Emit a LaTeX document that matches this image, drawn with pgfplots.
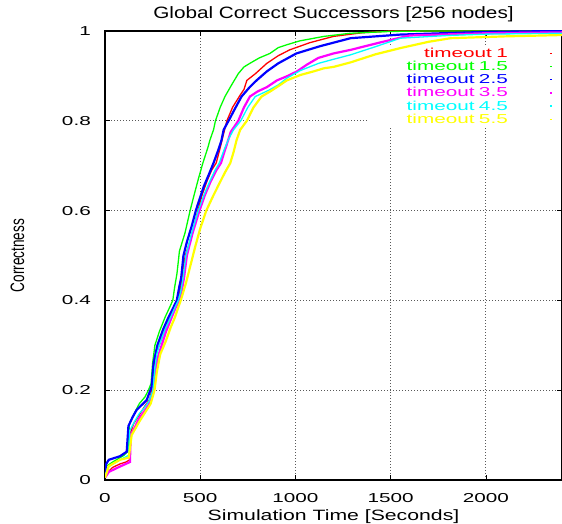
\documentclass[border=0pt]{standalone}
\usepackage{fontspec}
\setmainfont{Liberation Sans}
\newfontfamily\tickfont{Liberation Sans}[FakeStretch=1.6]
\newfontfamily\titlefont{Liberation Sans}[FakeStretch=1.26]
\newfontfamily\labelfont{Liberation Sans}[FakeStretch=1.42]
\newfontfamily\ylabfont{Liberation Sans}[FakeStretch=0.7]
\usepackage{pgfplots}
\pgfplotsset{compat=1.18}
\usetikzlibrary{calc}

\definecolor{gpred}{RGB}{255,0,0}
\definecolor{gpgreen}{RGB}{0,255,0}
\definecolor{gpblue}{RGB}{0,0,255}
\definecolor{gpmagenta}{RGB}{255,0,255}
\definecolor{gpcyan}{RGB}{0,255,255}
\definecolor{gpyellow}{RGB}{255,255,0}

\begin{document}
\begin{tikzpicture}
\begin{axis}[
  set layers,
  scale only axis,
  width=457bp, height=449bp,
  xmin=0, xmax=2400, ymin=0, ymax=1,
  enlargelimits=false,
  xtick={0,500,1000,1500,2000},
  ytick={0,0.2,0.4,0.6,0.8,1},
  /pgf/number format/assume math mode=true,
  /pgf/number format/1000 sep={},
  tick align=inside,
  major tick length=5bp,
  tick style={black, line width=0.6bp},
  axis line style={black, line width=1.2bp},
  grid=major,
  major grid style={black!65, line width=0.7bp, dash pattern=on 1bp off 2bp},
  xticklabel style={font=\tickfont\fontsize{13}{15}\selectfont, anchor=north, inner sep=0pt, yshift=-13bp},
  yticklabel style={font=\tickfont\fontsize{13}{15}\selectfont, anchor=east, inner sep=0pt, xshift=-14bp},
  every axis title shift=0pt,
  title={Global Correct Successors [256 nodes]},
  title style={font=\titlefont\fontsize{16.5}{19}\selectfont, at={(axis description cs:0.5,1.0278)}, anchor=base, inner sep=0pt},
  xlabel={Simulation Time [Seconds]},
  xlabel style={font=\labelfont\fontsize{15}{18}\selectfont, at={(axis description cs:0.5,-0.0891)}, anchor=base, inner sep=0pt},
  ylabel={Correctness},
  ylabel style={font=\ylabfont\fontsize{19.5}{22}\selectfont, at={(axis description cs:-0.1772,0.5)}, anchor=base, inner sep=0pt},
  legend style={at={(axis description cs:1,0.9666)}, anchor=north east,
    fill=none, draw=none, inner xsep=8bp, inner ysep=1bp,
    row sep=0pt, column sep=0pt,
    font=\tickfont\fontsize{13}{15}\selectfont,
    nodes={text width=130bp, align=right, text height=9.5bp, text depth=2.5bp, inner xsep=2bp, inner ysep=0.6bp}},
  legend cell align=right,
  legend plot pos=right,
  legend image code/.code={\path[draw=none, fill=none] (0bp,0bp) rectangle (44bp,0.1bp);
    \draw[#1, line width=1.4bp] (40bp,0.5bp) -- (42.5bp,0.5bp);},
]

% the key area keeps the grid out, but not the curves
\begin{pgfonlayer}{pre main}
  \fill[white] (rel axis cs:0.5755,0.786) rectangle (rel axis cs:0.998,0.9666);
\end{pgfonlayer}

\coordinate (bbsw) at (rel axis cs:0,0);
\coordinate (bbne) at (rel axis cs:1,1);

% timeout 1
\addplot[gpred, line width=1.3bp] coordinates {
(0,0.005) (10,0.015) (40,0.028) (80,0.036) (110,0.040) (130,0.045)
(134,0.105) (150,0.125) (180,0.145) (210,0.165) (235,0.18) (248,0.205)
(256,0.25) (266,0.28) (285,0.30) (310,0.33) (340,0.36) (365,0.385)
(385,0.40) (398,0.43) (410,0.47) (422,0.50) (445,0.53) (470,0.57)
(488,0.60) (510,0.635) (535,0.665) (560,0.69) (584,0.706) (605,0.74)
(625,0.775) (640,0.80) (670,0.83) (708,0.856) (730,0.87) (745,0.89)
(790,0.905) (850,0.928) (910,0.945) (970,0.958) (1076,0.974) (1200,0.988)
(1350,0.996) (1500,1.0) (2400,1.0)
};
\addlegendentry[text=gpred]{timeout 1}

% timeout 1.5
\addplot[gpgreen, line width=1.3bp] coordinates {
(0,0.01) (5,0.03) (40,0.04) (100,0.055) (122,0.065) (128,0.125)
(150,0.145) (180,0.17) (210,0.185) (228,0.20) (242,0.215) (250,0.26)
(262,0.30) (285,0.33) (316,0.363) (340,0.385) (356,0.40) (366,0.43)
(378,0.46) (391,0.51) (420,0.55) (447,0.60) (465,0.63) (490,0.67)
(514,0.706) (540,0.74) (551,0.757) (570,0.78) (580,0.80) (605,0.83)
(630,0.854) (665,0.88) (700,0.905) (730,0.92) (761,0.928) (810,0.94)
(866,0.95) (910,0.963) (960,0.97) (1023,0.978) (1150,0.988) (1290,0.995)
(1500,0.999) (1700,1.0) (2400,1.0)
};
\addlegendentry[text=gpgreen]{timeout 1.5}

% timeout 2.5
\addplot[gpblue, line width=2.2bp] coordinates {
(0,0.01) (5,0.035) (20,0.045) (79,0.053) (114,0.063) (123,0.12)
(145,0.14) (166,0.156) (195,0.168) (219,0.178) (245,0.208) (255,0.26)
(275,0.30) (305,0.335) (334,0.363) (360,0.385) (377,0.40) (390,0.43)
(400,0.45) (412,0.50) (430,0.53) (455,0.565) (477,0.60) (500,0.63)
(520,0.655) (545,0.68) (570,0.706) (595,0.735) (612,0.757) (623,0.78)
(649,0.80) (680,0.825) (717,0.854) (760,0.875) (796,0.89) (850,0.91)
(910,0.928) (1005,0.95) (1128,0.966) (1290,0.984) (1550,0.992)
(2000,0.998) (2400,1.0)
};
\addlegendentry[text=gpblue]{timeout 2.5}

% timeout 3.5
\addplot[gpmagenta, line width=2.2bp] coordinates {
(0,0.005) (20,0.018) (79,0.03) (131,0.04) (135,0.10) (160,0.12)
(180,0.138) (205,0.152) (230,0.168) (255,0.20) (265,0.24) (275,0.27)
(290,0.29) (320,0.33) (351,0.363) (372,0.385) (390,0.40) (402,0.42)
(415,0.45) (430,0.50) (460,0.55) (496,0.60) (525,0.635) (555,0.665)
(585,0.69) (609,0.706) (630,0.735) (647,0.757) (660,0.775) (700,0.80)
(730,0.83) (761,0.854) (800,0.865) (850,0.875) (903,0.89) (960,0.90)
(1008,0.91) (1060,0.925) (1120,0.94) (1200,0.95) (1290,0.958)
(1450,0.975) (1600,0.99) (2000,0.995) (2400,0.997)
};
\addlegendentry[text=gpmagenta]{timeout 3.5}

% timeout 4.5
\addplot[gpcyan, line width=1.3bp] coordinates {
(0,0.01) (20,0.03) (79,0.045) (125,0.055) (130,0.11) (155,0.13)
(180,0.148) (205,0.16) (230,0.175) (252,0.20) (262,0.25) (272,0.28)
(285,0.30) (315,0.335) (345,0.363) (368,0.385) (385,0.40) (398,0.42)
(410,0.45) (425,0.50) (455,0.55) (490,0.60) (520,0.635) (550,0.665)
(578,0.69) (600,0.706) (625,0.735) (650,0.76) (675,0.78) (713,0.80)
(750,0.83) (789,0.854) (860,0.868) (910,0.88) (955,0.895) (1026,0.912)
(1122,0.928) (1200,0.937) (1290,0.947) (1420,0.965) (1552,0.984)
(1800,0.99) (2000,0.993) (2400,0.995)
};
\addlegendentry[text=gpcyan]{timeout 4.5}

% timeout 5.5
\addplot[gpyellow, line width=2.2bp] coordinates {
(0,0.005) (20,0.031) (79,0.045) (125,0.05) (140,0.10) (160,0.115)
(180,0.13) (210,0.15) (240,0.17) (260,0.20) (272,0.24) (290,0.28)
(320,0.31) (345,0.34) (368,0.363) (385,0.385) (398,0.40) (412,0.42)
(426,0.44) (450,0.48) (474,0.52) (500,0.56) (532,0.60) (565,0.63)
(600,0.66) (630,0.685) (658,0.706) (675,0.73) (691,0.757) (710,0.78)
(745,0.80) (780,0.83) (822,0.854) (870,0.866) (910,0.877) (955,0.89)
(1026,0.902) (1095,0.91) (1150,0.917) (1200,0.92) (1289,0.93)
(1420,0.948) (1552,0.962) (1700,0.976) (1816,0.984) (2100,0.988)
(2400,0.991)
};
\addlegendentry[text=gpyellow]{timeout 5.5}

\end{axis}
\pgfresetboundingbox
\path[use as bounding box] ($(bbsw)+(-105bp,-44bp)$) rectangle ($(bbne)+(0bp,31bp)$);
\end{tikzpicture}
\end{document}
